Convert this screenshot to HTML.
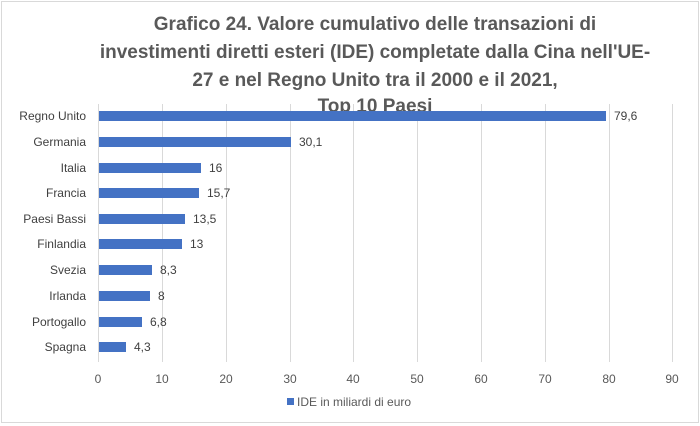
<!DOCTYPE html>
<html><head><meta charset="utf-8"><style>
body{margin:0;background:#fff;}
svg{display:block;font-family:"Liberation Sans",sans-serif;}
</style></head><body>
<svg width="700" height="426" viewBox="0 0 700 426">
<rect x="1.5" y="1.5" width="697" height="421" fill="#fff" stroke="#d9d9d9"/>
<g font-weight="bold" font-size="19" fill="#595959" text-anchor="middle">
<text x="375" y="30">Grafico 24. Valore cumulativo delle transazioni di</text>
<text x="375" y="58">investimenti diretti esteri (IDE) completate dalla Cina nell'UE-</text>
<text x="375" y="86">27 e nel Regno Unito tra il 2000 e il 2021,</text>
<text x="375" y="112">Top 10 Paesi</text>
</g>
<g stroke="#d9d9d9" stroke-width="1">
<line x1="98.5" y1="104" x2="98.5" y2="362"/>
<line x1="162.5" y1="104" x2="162.5" y2="362"/>
<line x1="226.5" y1="104" x2="226.5" y2="362"/>
<line x1="290.5" y1="104" x2="290.5" y2="362"/>
<line x1="353.5" y1="104" x2="353.5" y2="362"/>
<line x1="417.5" y1="104" x2="417.5" y2="362"/>
<line x1="481.5" y1="104" x2="481.5" y2="362"/>
<line x1="545.5" y1="104" x2="545.5" y2="362"/>
<line x1="609.5" y1="104" x2="609.5" y2="362"/>
<line x1="672.5" y1="104" x2="672.5" y2="362"/>
</g>
<g fill="#4472c4">
<rect x="99" y="111" width="507" height="10"/>
<rect x="99" y="137" width="192" height="10"/>
<rect x="99" y="163" width="102" height="10"/>
<rect x="99" y="188" width="100" height="10"/>
<rect x="99" y="214" width="86" height="10"/>
<rect x="99" y="239" width="83" height="10"/>
<rect x="99" y="265" width="53" height="10"/>
<rect x="99" y="291" width="51" height="10"/>
<rect x="99" y="317" width="43" height="10"/>
<rect x="99" y="342" width="27" height="10"/>
</g>
<g font-size="12" fill="#404040" text-anchor="end">
<text x="86" y="120">Regno Unito</text>
<text x="86" y="146">Germania</text>
<text x="86" y="172">Italia</text>
<text x="86" y="197">Francia</text>
<text x="86" y="223">Paesi Bassi</text>
<text x="86" y="248">Finlandia</text>
<text x="86" y="274">Svezia</text>
<text x="86" y="300">Irlanda</text>
<text x="86" y="326">Portogallo</text>
<text x="86" y="351">Spagna</text>
</g>
<g font-size="12" fill="#404040">
<text x="614" y="120">79,6</text>
<text x="299" y="146">30,1</text>
<text x="209" y="172">16</text>
<text x="207" y="197">15,7</text>
<text x="193" y="223">13,5</text>
<text x="190" y="248">13</text>
<text x="160" y="274">8,3</text>
<text x="158" y="300">8</text>
<text x="150" y="326">6,8</text>
<text x="134" y="351">4,3</text>
</g>
<g font-size="12" fill="#595959" text-anchor="middle">
<text x="98" y="383">0</text><text x="162" y="383">10</text><text x="226" y="383">20</text>
<text x="290" y="383">30</text><text x="353" y="383">40</text><text x="417" y="383">50</text>
<text x="481" y="383">60</text><text x="545" y="383">70</text><text x="609" y="383">80</text>
<text x="672" y="383">90</text>
</g>
<rect x="287" y="398" width="7" height="7" fill="#4472c4"/>
<text x="297" y="406" font-size="12" fill="#595959">IDE in miliardi di euro</text>
</svg>
</body></html>
